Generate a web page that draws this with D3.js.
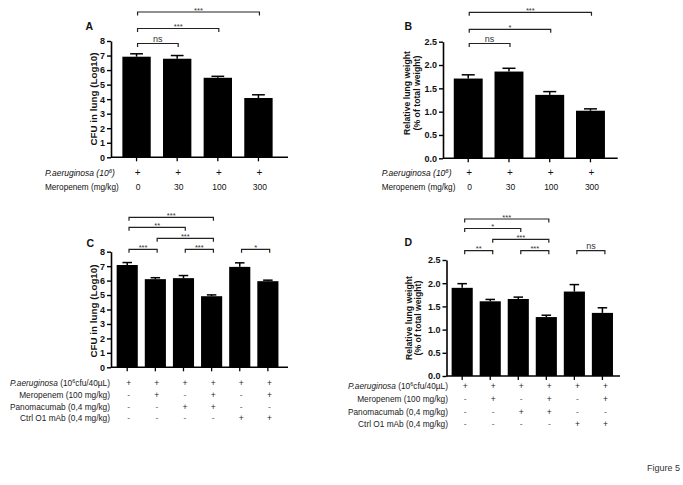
<!DOCTYPE html>
<html><head><meta charset="utf-8">
<script src="https://cdn.jsdelivr.net/npm/d3@7"></script>
<style>html,body{margin:0;padding:0;background:#fff;}svg{display:block;}</style>
</head><body>
<script>
// ---------- data ----------
const meropenemDosesAB = ["0", "30", "100", "300"];
const paeruAB = ["+", "+", "+", "+"];
const cfuMeanA = [6.92, 6.78, 5.47, 4.08];
const cfuSemA  = [0.20, 0.22, 0.10, 0.22];
const weightMeanB = [1.71, 1.86, 1.36, 1.02];
const weightSemB  = [0.08, 0.07, 0.07, 0.04];

const paeruCD       = ["+", "+", "+", "+", "+", "+"];
const meropenemCD   = ["-", "+", "-", "+", "-", "+"];
const panomacumabCD = ["-", "-", "+", "+", "-", "-"];
const ctrlMabCD     = ["-", "-", "-", "-", "+", "+"];
const cfuMeanC = [7.08, 6.10, 6.17, 4.92, 6.95, 5.96];
const cfuSemC  = [0.17, 0.10, 0.18, 0.09, 0.28, 0.07];
const weightMeanD = [1.90, 1.61, 1.66, 1.27, 1.82, 1.36];
const weightSemD  = [0.09, 0.04, 0.04, 0.04, 0.15, 0.11];

const ticksCFU = [0, 1, 2, 3, 4, 5, 6, 7, 8];
const ticksWeight = [0, 0.5, 1.0, 1.5, 2.0, 2.5];

// comparisons: [groupA, groupB, label, level]
const compsA = [[0, 1, "ns", 0], [0, 2, "***", 1], [0, 3, "***", 2]];
const compsB = [[0, 1, "ns", 0], [0, 2, "*", 1], [0, 3, "***", 2]];
const compsC = [[0, 1, "***", 0], [2, 3, "***", 0], [4, 5, "*", 0], [1, 3, "***", 1], [0, 2, "**", 2], [0, 3, "***", 3]];
const compsD = [[0, 1, "**", 0], [2, 3, "***", 0], [4, 5, "ns", 0], [1, 3, "***", 1], [0, 2, "*", 2], [0, 3, "***", 3]];

// ---------- drawing ----------
const FONT = "'Liberation Sans', Arial, Helvetica, sans-serif";
const W = 683, H = 485;
const svg = d3.select("body").append("svg").attr("width", W).attr("height", H)
  .style("font-family", FONT);

function panel(cfg) {
  const g = svg.append("g");
  const n = cfg.means.length;
  const x = d3.scaleBand().domain(d3.range(n)).range([cfg.r0, cfg.r1]).padding(cfg.pad);
  const y = d3.scaleLinear().domain([0, cfg.ymax]).range([cfg.yb, cfg.yt]);
  const bw = x.bandwidth();
  const cx = i => x(i) + bw / 2;

  g.selectAll("rect.bar").data(cfg.means).join("rect")
    .attr("x", (d, i) => x(i)).attr("y", d => y(d))
    .attr("width", bw).attr("height", d => cfg.yb - y(d))
    .attr("fill", "#000");

  const cw = bw * 0.45;
  cfg.means.forEach((m, i) => {
    const top = y(m + cfg.sems[i]);
    g.append("line").attr("x1", cx(i)).attr("x2", cx(i)).attr("y1", y(m)).attr("y2", top)
      .attr("stroke", "#000").attr("stroke-width", 1.5);
    g.append("line").attr("x1", cx(i) - cw / 2).attr("x2", cx(i) + cw / 2).attr("y1", top).attr("y2", top)
      .attr("stroke", "#000").attr("stroke-width", 1.5);
  });

  const ya = g.append("g").attr("transform", `translate(${cfg.ax},0)`)
    .call(d3.axisLeft(y).tickValues(cfg.ticks).tickFormat(cfg.fmt).tickSize(4).tickSizeOuter(0).tickPadding(2));
  ya.select(".domain").attr("stroke", "#000").attr("stroke-width", 1.6);
  ya.selectAll(".tick line").attr("stroke", "#000").attr("stroke-width", 1.4);
  ya.selectAll(".tick text").attr("fill", "#111").style("font-family", FONT)
    .style("font-size", "9px").style("font-weight", "bold");

  g.append("line").attr("x1", cfg.ax).attr("x2", cfg.axEnd).attr("y1", cfg.yb).attr("y2", cfg.yb)
    .attr("stroke", "#000").attr("stroke-width", 1.6);
  const xa = g.append("g").attr("transform", `translate(0,${cfg.yb})`)
    .call(d3.axisBottom(x).tickFormat("").tickSize(4).tickSizeOuter(0));
  xa.select(".domain").remove();
  xa.selectAll(".tick line").attr("stroke", "#000").attr("stroke-width", 1.3);

  cfg.ylabel.forEach((lab, k) => {
    g.append("text").attr("transform", `translate(${cfg.ylx[k]},${cfg.ylCy}) rotate(-90)`)
      .attr("text-anchor", "middle").style("font-size", cfg.ylSize).style("font-weight", "bold").attr("fill", "#111")
      .text(lab);
  });

  g.append("text").attr("x", cfg.letterPos[0]).attr("y", cfg.letterPos[1])
    .style("font-size", "10.5px").style("font-weight", "bold").attr("fill", "#111").text(cfg.letter);

  cfg.comps.forEach(([a, b, lab, lev]) => {
    const by = cfg.bracketYs[lev];
    const x1 = cx(a) + cfg.bdx, x2 = cx(b) + cfg.bdx;
    g.append("path").attr("d", `M${x1},${by + 3.5}V${by}H${x2}V${by + 3.5}`)
      .attr("fill", "none").attr("stroke", "#222").attr("stroke-width", 1.2);
    g.append("text").attr("x", (x1 + x2) / 2).attr("y", lab === "ns" ? by - 1.5 : by + 0.5)
      .attr("text-anchor", "middle").attr("fill", "#333")
      .style("font-size", lab === "ns" ? "9px" : "7.5px").text(lab);
  });

  return { x, y, cx, g };
}

const pA = panel({
  means: cfuMeanA, sems: cfuSemA, r0: 110.1, r1: 284.9, pad: 0.302,
  ymax: 8, yb: 157.3, yt: 41, ax: 111, axEnd: 288, ticks: ticksCFU, fmt: d3.format("d"),
  ylabel: ["CFU in lung (Log10)"], ylx: [96.5], ylCy: 99, ylSize: "9.8px",
  letter: "A", letterPos: [85.5, 29.8],
  comps: compsA, bracketYs: [43.5, 28.5, 12], bdx: 1
});
const pB = panel({
  means: weightMeanB, sems: weightSemB, r0: 441.95, r1: 616.75, pad: 0.29,
  ymax: 2.5, yb: 158.3, yt: 41.7, ax: 443, axEnd: 617.7, ticks: ticksWeight, fmt: d3.format(".1f"),
  ylabel: ["Relative lung weight", "(% of total weight)"], ylx: [409.8, 419.6], ylCy: 93, ylSize: "8.7px",
  letter: "B", letterPos: [404.5, 29.5],
  comps: compsB, bracketYs: [43.5, 29.3, 12.3], bdx: 1
});
const pC = panel({
  means: cfuMeanC, sems: cfuSemC, r0: 109.65, r1: 285.45, pad: 0.249,
  ymax: 8, yb: 367.3, yt: 251.7, ax: 111, axEnd: 288, ticks: ticksCFU, fmt: d3.format("d"),
  ylabel: ["CFU in lung (Log10)"], ylx: [96.5], ylCy: 311, ylSize: "9.8px",
  letter: "C", letterPos: [86.5, 246.5],
  comps: compsC, bracketYs: [249.3, 238.3, 227.3, 217.3], bdx: 1.8
});
const pD = panel({
  means: weightMeanD, sems: weightSemD, r0: 444.7, r1: 619.9, pad: 0.247,
  ymax: 2.5, yb: 376, yt: 260, ax: 446.5, axEnd: 620, ticks: ticksWeight, fmt: d3.format(".1f"),
  ylabel: ["Relative lung weight", "(% of total weight)"], ylx: [411.5, 421.3], ylCy: 318, ylSize: "8.7px",
  letter: "D", letterPos: [404.5, 246.3],
  comps: compsD, bracketYs: [250.7, 239.3, 228.5, 219], bdx: 2.5
});

function tableAB(p, lx, yRow1, yRow2) {
  const t = p.g.append("text").attr("x", lx).attr("y", yRow1).attr("fill", "#111")
    .style("font-size", "8.5px").style("font-style", "italic");
  t.append("tspan").text("P.aeruginosa (10");
  t.append("tspan").attr("dy", -3).style("font-size", "6px").text("6");
  t.append("tspan").attr("dy", 3).text(")");
  p.g.append("text").attr("x", lx).attr("y", yRow2).attr("fill", "#111")
    .style("font-size", "8.2px").text("Meropenem (mg/kg)");
  paeruAB.forEach((s, i) => {
    p.g.append("text").attr("x", p.cx(i) + 1).attr("y", yRow1).attr("text-anchor", "middle")
      .attr("fill", "#111").style("font-size", "10px").text(s);
  });
  meropenemDosesAB.forEach((s, i) => {
    p.g.append("text").attr("x", p.cx(i) + 1.5).attr("y", yRow2).attr("text-anchor", "middle")
      .attr("fill", "#111").style("font-size", "8.5px").text(s);
  });
}
tableAB(pA, 45, 176, 190);
tableAB(pB, 381.7, 176, 190);

function tableCD(p, rx, ys, dx) {
  const t = p.g.append("text").attr("x", rx).attr("y", ys[0]).attr("text-anchor", "end")
    .attr("fill", "#222").style("font-size", "8.3px");
  t.append("tspan").style("font-style", "italic").text("P.aeruginosa");
  t.append("tspan").text(" (10");
  t.append("tspan").attr("dy", -3).style("font-size", "5.5px").text("6");
  t.append("tspan").attr("dy", 3).text("cfu/40µL)");
  const labels = ["Meropenem (100 mg/kg)", "Panomacumab (0,4 mg/kg)", "Ctrl O1 mAb (0,4 mg/kg)"];
  labels.forEach((lab, k) => {
    p.g.append("text").attr("x", rx).attr("y", ys[k + 1]).attr("text-anchor", "end")
      .attr("fill", "#222").style("font-size", "8.3px").text(lab);
  });
  const all = [paeruCD, meropenemCD, panomacumabCD, ctrlMabCD];
  all.forEach((arr, k) => {
    arr.forEach((s, i) => {
      p.g.append("text").attr("x", p.cx(i) + dx).attr("y", ys[k]).attr("text-anchor", "middle")
        .attr("fill", s === "+" ? "#222" : "#666").style("font-size", "8.5px").text(s);
    });
  });
}
tableCD(pC, 110, [386, 398, 409.5, 421], 1.5);
tableCD(pD, 448, [389, 401.5, 415, 427], 3);

svg.append("text").attr("x", 647).attr("y", 471).attr("fill", "#333")
  .style("font-size", "9px").text("Figure 5");
</script>
</body></html>
